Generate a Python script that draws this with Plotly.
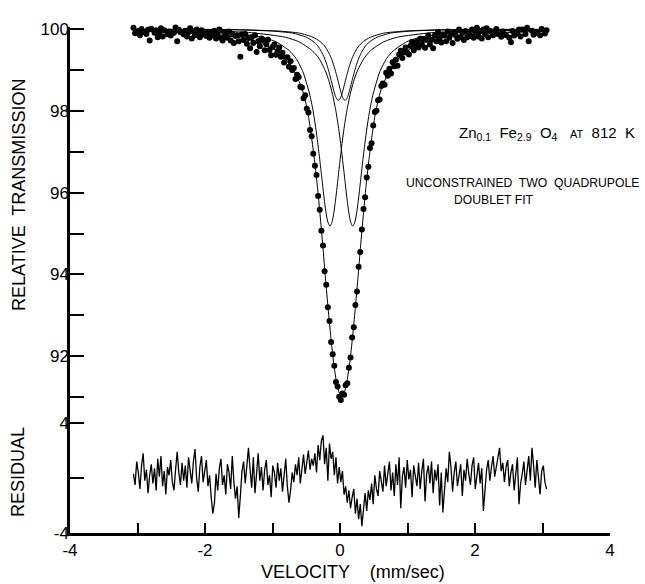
import numpy as np
import plotly.graph_objects as go

# ---- measured spectrum (256 channels, relative transmission %) ----
transmission = [
    100.03, 99.90, 100.07, 99.95, 99.85, 100.00, 99.93, 100.25, 99.88, 99.98, 99.72, 100.01, 100.12, 99.91, 99.97, 99.80,
    99.90, 100.02, 99.82, 99.97, 100.20, 99.87, 99.94, 99.84, 100.08, 99.91, 100.04, 99.70, 99.98, 99.92, 100.10, 99.87,
    99.96, 99.82, 99.92, 100.02, 99.77, 99.94, 99.85, 99.99, 99.90, 99.80, 99.97, 99.87, 100.16, 99.83, 99.93, 99.79,
    99.92, 99.85, 99.96, 99.77, 99.89, 99.99, 99.79, 99.72, 99.92, 99.84, 99.79, 99.94, 99.72, 99.88, 99.66, 99.83,
    99.85, 99.70, 99.32, 99.87, 99.73, 99.88, 99.64, 99.78, 99.53, 99.80, 99.66, 99.85, 99.44, 99.70, 99.58, 99.77,
    99.73, 99.48, 99.63, 99.74, 99.49, 99.36, 99.57, 99.62, 99.37, 99.46, 99.55, 99.32, 99.42, 99.18, 99.30, 99.31,
    99.08, 99.21, 99.00, 99.05, 98.78, 98.88, 98.83, 98.59, 98.57, 98.31, 98.38, 98.05, 97.96, 97.53, 97.38, 96.95,
    96.66, 96.43, 95.92, 95.58, 95.07, 94.71, 94.08, 93.75, 93.20, 92.86, 92.35, 92.05, 91.77, 91.37, 91.26, 91.01,
    90.93, 91.09, 91.06, 91.29, 91.34, 91.72, 91.97, 92.46, 92.71, 93.25, 93.58, 94.19, 94.55, 95.10, 95.60, 95.89,
    96.37, 96.63, 97.09, 97.21, 97.64, 97.97, 98.00, 98.26, 98.28, 98.61, 98.67, 98.64, 98.93, 98.86, 99.03, 98.91,
    99.19, 99.09, 99.25, 99.10, 99.38, 99.47, 99.29, 99.43, 99.55, 99.42, 99.38, 99.59, 99.69, 99.48, 99.61, 99.69,
    99.55, 99.76, 99.62, 99.75, 99.54, 99.74, 99.84, 99.62, 99.74, 99.53, 99.84, 99.70, 99.92, 99.78, 99.67, 99.86,
    99.84, 99.70, 99.94, 99.79, 99.89, 99.66, 99.92, 99.84, 99.76, 99.99, 99.80, 99.91, 99.73, 99.95, 99.80, 99.89,
    99.83, 99.99, 99.79, 99.92, 100.03, 99.82, 99.95, 99.77, 99.99, 99.88, 100.02, 99.80, 99.96, 100.08, 99.85, 99.93,
    100.00, 99.88, 100.07, 99.81, 99.94, 100.18, 99.85, 100.22, 99.79, 99.68, 99.95, 99.84, 100.30, 99.89, 99.99, 99.82,
    99.99, 100.07, 99.88, 100.03, 99.70, 100.32, 99.96, 99.86, 100.08, 99.91, 100.20, 99.85, 100.00, 100.28, 99.89, 99.97,
]

residual = [
    0.3, -0.5, 1.2, 0.4, -0.8, 0.9, 1.8, -0.2, 0.6, -1.1, 0.2, 1.0, -0.4, 0.7, -0.9, 1.4,
    0.1, 1.6, -0.6, 0.5, -1.2, 0.8, 0.2, 1.3, -0.3, -0.9, 0.6, 1.9, 0.4, -0.5, 1.1, -0.2,
    0.9, -0.7, 1.5, 0.3, -0.4, 1.2, 2.1, 0.0, -1.0, 0.8, 1.6, -0.3, 0.5, 1.3, -0.6, 0.2,
    -1.4, -2.6, -1.8, 0.3, -0.9, 0.7, 1.4, -0.5, 0.2, -1.2, 1.0, 0.4, -0.8, 1.6, -0.3, -1.5,
    -0.6, -2.9, -1.3, 0.5, 1.2, -0.4, 0.9, 2.2, 0.6, -0.7, 1.5, -1.1, 0.3, 1.8, -0.2, 0.8,
    -0.9, 0.6, 1.3, -0.5, 0.2, -1.4, 0.9, 0.4, -0.7, 1.1, -0.2, 0.7, -1.0, 0.3, 1.4, -0.6,
    -1.8, -0.9, 0.4, -0.3, 1.0, 0.2, 1.5, -0.4, 0.8, 1.7, 0.3, 1.2, 2.0, 0.6, 1.4, 0.9,
    1.8, 0.4, 2.4, 1.3, 2.7, 3.1, 1.0, 2.2, -0.2, 2.5, 1.4, 1.9, 0.2, 1.5, -0.4, 0.8,
    -0.3, 0.5, -1.2, -0.6, -1.8, -0.9, -2.2, -1.4, -0.8, -2.6, -1.5, -3.0, -1.9, -3.5, -2.2, -1.1,
    -2.4, -0.9, -1.6, -0.4, -1.9, 0.2, -0.8, -1.3, 0.5, -0.2, -1.0, 0.9, -0.6, 0.3, 1.2, -0.9,
    0.4, -1.3, 1.0, -0.5, 1.5, -2.2, 0.1, 0.8, -0.7, 1.3, -0.1, 0.6, -1.4, 0.9, 0.2, -0.6,
    1.1, -0.8, 0.5, 1.4, -1.7, 0.3, 0.9, -0.4, 1.2, -1.1, 0.6, -0.2, 1.0, -2.0, 0.4, -2.5,
    -0.9, 0.7, -0.3, 1.9, 0.8, -1.0, 0.4, 1.2, -0.6, 0.2, 1.0, -1.3, 0.6, -0.2, 1.4, 0.3,
    -0.5, 0.9, 1.5, -0.8, 0.3, 1.1, -0.4, 0.7, -2.4, -0.9, 0.6, 1.3, -0.2, 0.8, 1.6, 0.1,
    0.9, 1.4, 2.2, 0.5, 1.1, -0.3, 0.8, 1.3, -0.6, 0.4, 1.0, -0.9, 0.6, 1.5, -1.9, -0.4,
    0.3, 1.2, -0.5, 0.8, 1.6, -0.2, 2.2, 0.9, -0.7, 1.3, 0.2, -1.2, 0.5, 0.9, -0.3, -0.8,
]

# channel velocity calibration (mm/sec), first and last channel
V_FIRST, V_LAST = -3.06, 3.06

# ---- total fitted curve ----
fit_v = [-3.06, -2.475, -1.975, -1.475, -1.175, -0.975, -0.875, -0.775, -0.675, -0.575, -0.525,
         -0.475, -0.425, -0.375, -0.335, -0.295, -0.255, -0.215, -0.175, -0.135, -0.095, -0.055,
         -0.015, 0.025, 0.065, 0.105, 0.145, 0.185, 0.225, 0.265, 0.305, 0.345, 0.385, 0.425,
         0.475, 0.525, 0.575, 0.625, 0.725, 0.825, 0.925, 1.025, 1.225, 1.525, 2.025, 2.525, 3.06]
fit_t = [99.95, 99.92, 99.88, 99.79, 99.66, 99.50, 99.38, 99.20, 98.95, 98.60, 98.32,
         97.95, 97.40, 96.75, 96.15, 95.45, 94.70, 93.90, 93.15, 92.45, 91.85, 91.40,
         91.12, 91.02, 91.12, 91.40, 91.85, 92.45, 93.15, 93.90, 94.70, 95.45, 96.15, 96.75,
         97.40, 97.95, 98.32, 98.60, 98.95, 99.20, 99.38, 99.50, 99.66, 99.79, 99.88, 99.92, 99.95]

# ---- component lines: outer doublet (two deep lines) ----
big1_v = [-3.06, -2.15, -1.65, -1.15, -0.95, -0.75, -0.65, -0.55, -0.50, -0.45, -0.40, -0.36, -0.33,
          -0.30, -0.27, -0.24, -0.21, -0.18, -0.148, -0.12, -0.09, -0.06, -0.03, 0.0, 0.03, 0.06,
          0.10, 0.15, 0.20, 0.25, 0.35, 0.45, 0.65, 0.85, 1.35, 1.85, 3.06]
big1_t = [99.97, 99.95, 99.91, 99.80, 99.69, 99.47, 99.28, 98.96, 98.70, 98.41, 98.01, 97.59, 97.22,
          96.81, 96.37, 95.93, 95.54, 95.28, 95.18, 95.27, 95.52, 95.90, 96.34, 96.78, 97.20, 97.57,
          97.99, 98.40, 98.71, 98.95, 99.27, 99.47, 99.69, 99.80, 99.91, 99.95, 99.98]
big2_v = [-3.06, -1.81, -1.31, -0.81, -0.61, -0.41, -0.31, -0.21, -0.16, -0.11, -0.06, -0.02, 0.01,
          0.04, 0.07, 0.10, 0.13, 0.16, 0.188, 0.22, 0.25, 0.28, 0.31, 0.34, 0.37, 0.40, 0.44, 0.49,
          0.54, 0.59, 0.69, 0.79, 0.99, 1.19, 1.69, 2.19, 3.06]
big2_t = [99.98, 99.95, 99.91, 99.80, 99.69, 99.47, 99.28, 98.95, 98.71, 98.40, 97.99, 97.57, 97.20,
          96.78, 96.34, 95.90, 95.52, 95.27, 95.18, 95.28, 95.54, 95.93, 96.37, 96.81, 97.22, 97.59,
          98.01, 98.41, 98.70, 98.96, 99.28, 99.47, 99.69, 99.80, 99.91, 99.95, 99.97]

# ---- component lines: inner doublet (two shallow lines) ----
small1_v = [-3.06, -2.0, -1.5, -1.0, -0.7, -0.5, -0.4, -0.33, -0.28, -0.23, -0.19, -0.16, -0.13, -0.10,
            -0.07, -0.045, -0.025, -0.005, 0.02, 0.05, 0.08, 0.11, 0.14, 0.18, 0.23, 0.28, 0.35, 0.45,
            0.65, 0.95, 1.45, 1.95, 3.06]
small1_t = [99.99, 99.99, 99.98, 99.95, 99.90, 99.80, 99.70, 99.59, 99.46, 99.29, 99.10, 98.93, 98.74,
            98.54, 98.37, 98.28, 98.26, 98.28, 98.37, 98.54, 98.74, 98.93, 99.10, 99.29, 99.46, 99.59,
            99.70, 99.80, 99.90, 99.95, 99.98, 99.99, 99.99]
small2_v = [-3.06, -1.9, -1.4, -0.9, -0.6, -0.4, -0.3, -0.23, -0.18, -0.13, -0.09, -0.06, -0.03, 0.0,
            0.03, 0.054, 0.074, 0.094, 0.119, 0.149, 0.179, 0.209, 0.239, 0.279, 0.329, 0.379, 0.449,
            0.549, 0.749, 1.049, 1.549, 2.049, 3.06]
small2_t = [99.99, 99.99, 99.98, 99.95, 99.90, 99.80, 99.70, 99.59, 99.46, 99.29, 99.10, 98.93, 98.74,
            98.54, 98.37, 98.28, 98.26, 98.28, 98.37, 98.54, 98.74, 98.93, 99.10, 99.29, 99.46, 99.59,
            99.70, 99.80, 99.90, 99.95, 99.98, 99.99, 99.99]

x_tickvals = [-4, -3, -2, -1, 0, 1, 2, 3, 4]
x_ticktext = ["-4", "", "-2", "", "0", "", "2", "", "4"]
y_tickvals = [91, 92, 93, 94, 95, 96, 97, 98, 99, 100]
y_ticktext = ["", "92", "", "94", "", "96", "", "98", "", "100"]
r_tickvals = [-4, 0, 4]
r_ticktext = ["-4", "", "4"]

vel_data = np.linspace(V_FIRST, V_LAST, len(transmission))
vel_res = np.linspace(V_FIRST, V_LAST, len(residual))

FONT = "Liberation Sans"
fig = go.Figure()

line_style = dict(color="black", width=1, shape="spline", smoothing=0.6)
for xs, ys in [(big1_v, big1_t), (big2_v, big2_t), (small1_v, small1_t),
               (small2_v, small2_t), (fit_v, fit_t)]:
    fig.add_trace(go.Scatter(x=xs, y=ys, mode="lines", line=line_style,
                             xaxis="x", yaxis="y", hoverinfo="skip"))

fig.add_trace(go.Scatter(x=vel_data, y=transmission, mode="markers",
                         marker=dict(symbol="circle", size=6, color="black"),
                         cliponaxis=False, xaxis="x", yaxis="y"))

fig.add_trace(go.Scatter(x=vel_res, y=residual, mode="lines",
                         line=dict(color="black", width=1.3),
                         xaxis="x", yaxis="y2"))

split = 123 / 506
axis_common = dict(showline=True, linecolor="black", linewidth=2.5, ticks="inside",
                   tickcolor="black", tickwidth=1.5, showgrid=False, zeroline=False,
                   tickfont=dict(family=FONT, size=17, color="black"))

fig.update_layout(
    width=645, height=584,
    margin=dict(l=70, r=35, t=27, b=51),
    paper_bgcolor="white", plot_bgcolor="white",
    showlegend=False,
    font=dict(family=FONT, size=15, color="black"),
    xaxis=dict(range=[-4, 4], domain=[0, 1], anchor="y2", ticklen=10,
               tickmode="array", tickvals=x_tickvals, ticktext=x_ticktext, **axis_common),
    yaxis=dict(range=[90.685, 100.05], domain=[split, 1], anchor="x", ticklen=14,
               ticklabelstandoff=-5,
               tickmode="array", tickvals=y_tickvals, ticktext=y_ticktext, **axis_common),
    yaxis2=dict(range=[-4, 4.945], domain=[0, split], anchor="x", ticklen=14,
                ticklabelstandoff=-5,
                tickmode="array", tickvals=r_tickvals, ticktext=r_ticktext, **axis_common),
)

def px_x(p):
    return (p - 70) / 540

def px_y(p):
    return (533 - p) / 506

annots = [
    dict(text="RELATIVE  TRANSMISSION", x=px_x(19), y=px_y(195), textangle=-90,
         font=dict(size=18), xanchor="center", yanchor="middle"),
    dict(text="RESIDUAL", x=px_x(18), y=px_y(472), textangle=-90,
         font=dict(size=18), xanchor="center", yanchor="middle"),
    dict(text="VELOCITY    (mm/sec)", x=px_x(353), y=px_y(572),
         font=dict(size=18), xanchor="center", yanchor="middle"),
    dict(text="Zn<sub>0.1</sub>  Fe<sub>2.9</sub>  O<sub>4</sub>   <span style='font-size:11px'>AT</span>  812  K",
         x=px_x(457), y=px_y(133), font=dict(size=15), xanchor="left", yanchor="middle"),
    dict(text="UNCONSTRAINED  TWO  QUADRUPOLE", x=px_x(404), y=px_y(183),
         font=dict(size=12.2), xanchor="left", yanchor="middle"),
    dict(text="DOUBLET FIT", x=px_x(452), y=px_y(200),
         font=dict(size=12.2), xanchor="left", yanchor="middle"),
]
for a in annots:
    a.update(xref="paper", yref="paper", showarrow=False)
    a["font"].update(family=FONT, color="black")
    fig.add_annotation(**a)

fig.write_html("out.html", post_script="document.body.style.margin='0px';",
               config={"displayModeBar": False})
